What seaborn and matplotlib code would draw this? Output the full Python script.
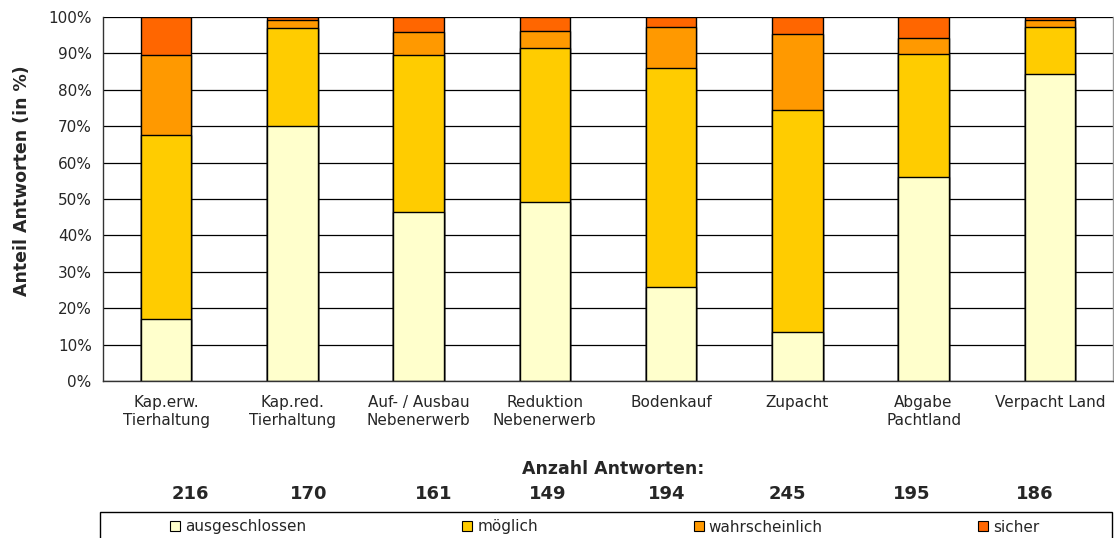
import numpy as np
import pandas as pd
import matplotlib.pyplot as plt
from matplotlib.patches import Patch, Rectangle
import seaborn as sns

# Data (shares in %)
categories = ["Kap.erw.\nTierhaltung", "Kap.red.\nTierhaltung", "Auf- / Ausbau\nNebenerwerb",
              "Reduktion\nNebenerwerb", "Bodenkauf", "Zupacht", "Abgabe\nPachtland", "Verpacht Land"]
ausgeschlossen = [17.0, 70.0, 46.4, 49.1, 25.7, 13.4, 56.0, 84.4]
moeglich = [50.7, 27.1, 43.1, 42.3, 60.4, 61.1, 33.8, 12.9]
wahrscheinlich = [21.8, 2.2, 6.3, 4.8, 11.1, 20.7, 4.3, 1.8]
sicher = [10.5, 0.7, 4.2, 3.8, 2.8, 4.8, 5.9, 0.9]
anzahl = [216, 170, 161, 149, 194, 245, 195, 186]

series_names = ["ausgeschlossen", "möglich", "wahrscheinlich", "sicher"]
colors = ["#FFFFCC", "#FFCC00", "#FF9900", "#FF6600"]

df = pd.DataFrame({"Kategorie": categories, "ausgeschlossen": ausgeschlossen,
                   "möglich": moeglich, "wahrscheinlich": wahrscheinlich, "sicher": sicher})
cum = df[series_names].cumsum(axis=1)

sns.set_style("white")
plt.rcParams['font.family'] = ['DejaVu Sans']

fig = plt.figure(figsize=(11.14, 5.38), dpi=100)
ax = fig.add_axes([103 / 1114, 1 - 381 / 538, 1010 / 1114, 364 / 538])

# gridlines behind bars
ax.set_axisbelow(True)
ax.yaxis.grid(True, color="#000000", linewidth=0.9)

# stacked bars: draw cumulative totals from top to bottom
for name, col in reversed(list(zip(series_names, colors))):
    sns.barplot(x=df["Kategorie"], y=cum[name], color=col, width=0.4,
                edgecolor="black", linewidth=1.0, ax=ax, saturation=1)

ax.set_ylim(0, 100)
ax.set_xlim(-0.5, len(categories) - 0.5)
ax.set_yticks(np.arange(0, 101, 10))
ax.set_yticklabels([f"{v}%" for v in range(0, 101, 10)], fontsize=11)
ax.set_xticks(range(len(categories)))
ax.set_xticklabels(categories, fontsize=11, linespacing=1.3)
ax.tick_params(axis="x", which="major", length=0, pad=10)
ax.set_xticks(np.arange(-0.5, len(categories), 1), minor=True)
ax.tick_params(axis="x", which="minor", length=3.6, width=0.8, direction="out", color="#555555")
ax.tick_params(axis="y", length=3.6, width=0.8, pad=4.5, color="#555555")
ax.set_xlabel("")
ax.set_ylabel("Anteil Antworten (in %)", fontsize=12.5, fontweight="bold")
ax.yaxis.set_label_coords((31 - 103) / 1010, (381 - 181) / 364)

for side in ["left", "bottom"]:
    ax.spines[side].set_color("#333333")
    ax.spines[side].set_linewidth(1.0)
ax.spines["top"].set_visible(False)
ax.spines["right"].set_color("#999999")
ax.spines["right"].set_linewidth(1.0)

# count row below the chart
fig.text(613 / 1114, 1 - 469 / 538, "Anzahl Antworten:", ha="center", va="center",
         fontsize=12.5, fontweight="bold")
count_x = [190, 309, 434, 548, 667, 787, 912, 1035]
for px, n in zip(count_x, anzahl):
    fig.text(px / 1114, 1 - 494 / 538, str(n), ha="center", va="center",
             fontsize=13, fontweight="bold")

# legend box
fig.patches.append(Rectangle((100 / 1114, 1 - 545 / 538), 1012 / 1114, 33 / 538,
                             transform=fig.transFigure, fill=False, edgecolor="black",
                             linewidth=1.0))
handles = [Patch(facecolor=c, edgecolor="black", linewidth=0.8, label=n)
           for n, c in zip(series_names, colors)]
fig.legend(handles=handles, ncol=4, loc="center", frameon=False,
           bbox_to_anchor=(605 / 1114, 1 - 527 / 538), fontsize=11,
           handlelength=0.65, handleheight=0.65, handletextpad=0.33, columnspacing=10.2,
           borderpad=0)

fig.savefig("out.png", dpi=100)
